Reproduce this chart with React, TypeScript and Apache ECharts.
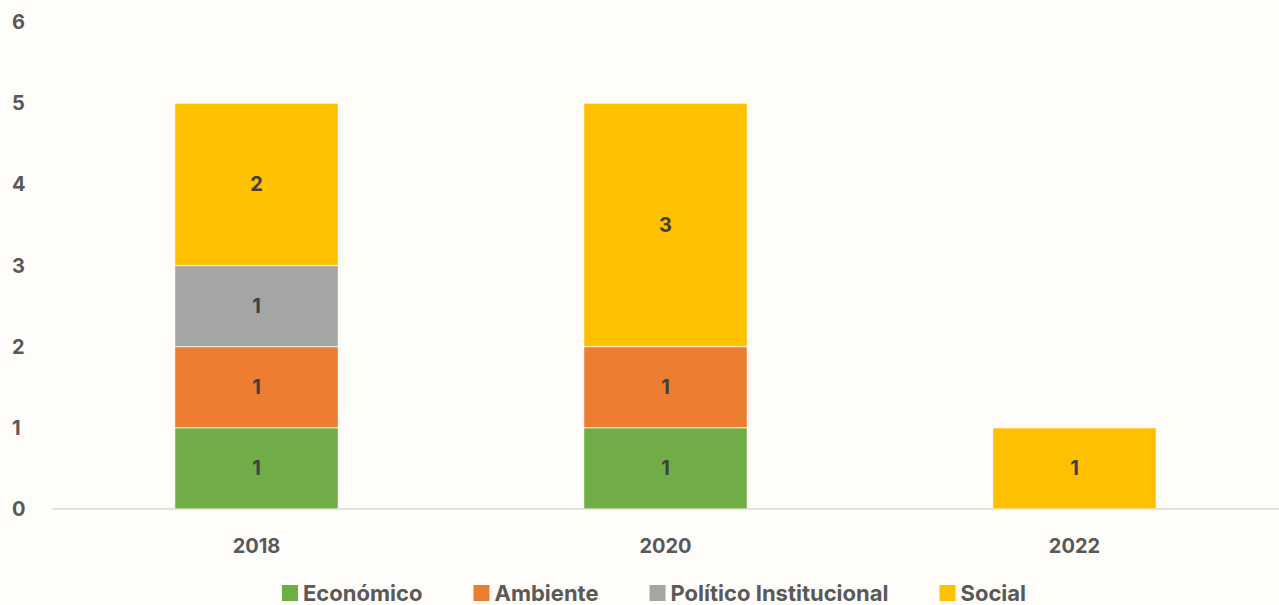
import React, { useEffect, useRef } from "react";
import * as echarts from "echarts";

const categories = ["2018", "2020", "2022"];
const seriesNames = ["Económico", "Ambiente", "Político Institucional", "Social"];
const economico = [1, 1, null];
const ambiente = [1, 1, null];
const politico = [1, null, null];
const social = [2, 3, 1];
const colors = ["#70AD47", "#ED7D31", "#A5A5A5", "#FFC000"];
const yTicks = [0, 6, 1];

const FONT = "Inter";

export default function App() {
  const ref = useRef<HTMLDivElement>(null);
  useEffect(() => {
    document.body.style.margin = "0";
    document.body.style.background = "#FFFDFA";
    const chart = echarts.init(ref.current!, undefined, { renderer: "svg" });
    const values = [economico, ambiente, politico, social];
    chart.setOption({
      animation: false,
      backgroundColor: "#FFFDFA",
      textStyle: { fontFamily: FONT },
      grid: { left: 52, right: -3, top: 22, bottom: 96 },
      legend: {
        top: 582,
        left: 282,
        padding: 0,
        itemWidth: 16,
        itemHeight: 16,
        itemGap: 51,
        itemStyle: { borderWidth: 0 },
        icon: "rect",
        textStyle: { fontSize: 22, fontWeight: "bold", color: "#595959", fontFamily: FONT },
        data: seriesNames,
      },
      xAxis: {
        type: "category",
        data: categories,
        axisLine: { lineStyle: { color: "#D9D9D9", width: 1.5 } },
        axisTick: { show: false },
        axisLabel: { fontSize: 20, fontWeight: "bold", color: "#595959", margin: 27, fontFamily: FONT },
      },
      yAxis: {
        type: "value",
        min: yTicks[0],
        max: yTicks[1],
        interval: yTicks[2],
        splitLine: { show: false },
        axisLabel: { fontSize: 20, fontWeight: "bold", color: "#595959", margin: 0, align: "left", padding: [0, 0, 0, -40], fontFamily: FONT },
      },
      series: seriesNames.map((name, i) => ({
        name,
        type: "bar",
        stack: "total",
        barWidth: "40%",
        data: values[i],
        itemStyle: { color: colors[i], borderColor: "#FFFFFF", borderWidth: 0.5 },
        label: {
          show: true,
          position: "inside",
          fontSize: 20,
          fontWeight: "bold",
          color: "#404040",
          fontFamily: FONT,
          padding: [4, 0, 0, 0],
        },
      })),
    });
    return () => chart.dispose();
  }, []);
  return <div ref={ref} style={{ width: 1279, height: 605 }} />;
}
